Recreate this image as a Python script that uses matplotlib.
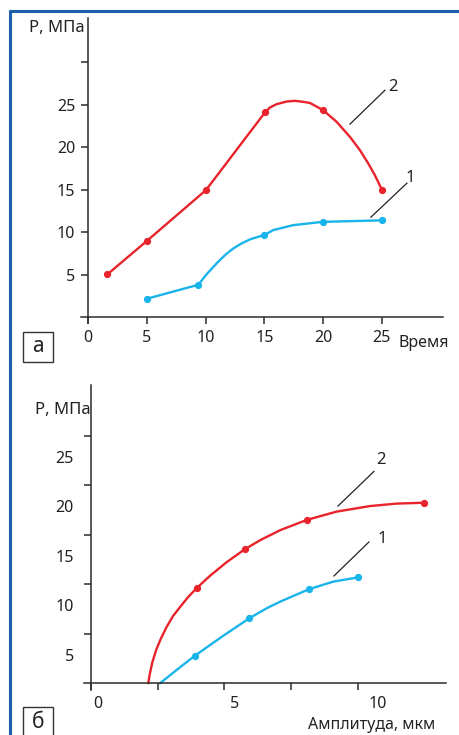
import matplotlib
matplotlib.use("Agg")
import matplotlib.pyplot as plt
from matplotlib.lines import Line2D
from matplotlib.patches import Rectangle
from matplotlib.transforms import ScaledTranslation

plt.rcParams["font.family"] = ["Noto Sans", "DejaVu Sans"]

RED = "#e8232b"
BLUE = "#18b4ea"
FRAME = "#1d5fab"
AXIS = "#2b2b2b"

# panel а: pressure vs time
time_red = [1.64, 5.02, 10.03, 15.05, 15.48, 16.05, 16.9, 17.6, 18.31, 18.88,
            20.0, 21.15, 22.28, 23.13, 23.84, 24.4, 25.0]
p_red_a = [5.02, 8.98, 14.94, 24.08, 24.67, 25.06, 25.37, 25.45, 25.33, 25.2,
           24.35, 22.98, 21.21, 19.65, 18.08, 16.71, 15.0]
time_red_pts = [1.64, 5.02, 10.03, 15.05, 20.0, 25.0]
p_red_a_pts = [5.02, 8.98, 14.94, 24.08, 24.35, 15.0]

time_blue = [4.99, 9.38, 10.1, 10.94, 11.65, 12.36, 13.07, 13.78, 14.48, 15.0,
             15.76, 17.46, 20.0, 25.02]
p_blue_a = [2.15, 3.8, 5.06, 6.32, 7.29, 8.08, 8.67, 9.14, 9.45, 9.65,
            10.24, 10.82, 11.21, 11.38]
time_blue_pts = [4.99, 9.38, 15.0, 20.0, 25.02]
p_blue_a_pts = [2.15, 3.8, 9.65, 11.21, 11.38]

# panel б: pressure vs amplitude
amp_red = [2.15, 2.2, 2.3, 2.45, 2.62, 2.84, 3.08, 3.34, 3.64, 3.96, 4.46, 5.09,
           5.77, 6.34, 7.09, 8.09, 9.21, 10.46, 11.46, 12.5]
p_red_b = [0.0, 0.85, 2.1, 3.4, 4.5, 5.7, 6.8, 7.7, 8.7, 9.6, 10.85, 12.24,
           13.54, 14.45, 15.46, 16.5, 17.34, 17.9, 18.15, 18.24]
amp_red_pts = [3.96, 5.77, 8.09, 12.5]
p_red_b_pts = [9.6, 13.54, 16.5, 18.24]

amp_blue = [2.59, 3.21, 3.9, 4.96, 5.94, 6.59, 7.09, 8.17, 9.09, 10.02]
p_blue_b = [0.0, 1.34, 2.79, 4.8, 6.57, 7.58, 8.24, 9.5, 10.27, 10.7]
amp_blue_pts = [3.9, 5.94, 8.17, 10.02]
p_blue_b_pts = [2.79, 6.57, 9.5, 10.7]

xticks_a = [0, 5, 10, 15, 20, 25]
yticks_a = [5, 10, 15, 20, 25, 30]
ylabels_a = ["5", "10", "15", "20", "25", ""]
xticks_b = [0, 2.5, 5, 7.5, 10]
xlabels_b = ["0", "", "5", "", "10"]
yticks_b = [5, 10, 15, 20, 25]


def style_axes(ax, ypad):
    for s in ("top", "right"):
        ax.spines[s].set_visible(False)
    for s in ("left", "bottom"):
        ax.spines[s].set_position(("data", 0))
        ax.spines[s].set_color(AXIS)
        ax.spines[s].set_linewidth(1.1)
    ax.tick_params(direction="out", length=5, width=1.1, color=AXIS,
                   labelsize=11.5, labelcolor="#222222")
    ax.tick_params(axis="y", pad=ypad)
    ax.tick_params(axis="x", pad=4.5)
    ax.patch.set_visible(False)


def draw_curve(ax, x, y, xp, yp, color):
    ax.plot(x, y, color=color, lw=1.7, solid_capstyle="round",
            solid_joinstyle="round", clip_on=False)
    ax.plot(xp, yp, "o", color=color, ms=4.2, clip_on=False)


def leader(ax, x0, y0, x1, y1, tx, ty, text):
    ax.plot([x0, x1], [y0, y1], color="#222222", lw=0.9)
    ax.text(tx, ty, text, fontsize=12, color="#222222", ha="center", va="center")


fig = plt.figure(figsize=(4.6, 7.35), dpi=100)

# --- panel а ---
ax_a = fig.add_axes([81 / 460, 1 - 323 / 735, 362 / 460, 305 / 735])
ax_a.set_xlim(-0.6, 30.2)
ax_a.set_ylim(-0.7, 35.2)
style_axes(ax_a, 4.3)
ax_a.set_xticks(xticks_a)
ax_a.set_yticks(yticks_a, ylabels_a)
draw_curve(ax_a, time_red, p_red_a, time_red_pts, p_red_a_pts, RED)
draw_curve(ax_a, time_blue, p_blue_a, time_blue_pts, p_blue_a_pts, BLUE)
leader(ax_a, 22.28, 22.7, 25.26, 26.7, 25.91, 27.02, "2")
leader(ax_a, 24.07, 11.76, 27.13, 15.76, 27.38, 16.35, "1")

# --- panel б ---
ax_b = fig.add_axes([84 / 460, 1 - 690 / 735, 362 / 460, 305 / 735])
ax_b.set_xlim(-0.26, 13.31)
ax_b.set_ylim(-0.68, 30.13)
style_axes(ax_b, 7.2)
ax_b.set_xticks(xticks_b, xlabels_b)
ax_b.set_yticks(yticks_b)
draw_curve(ax_b, amp_red, p_red_b, amp_red_pts, p_red_b_pts, RED)
draw_curve(ax_b, amp_blue, p_blue_b, amp_blue_pts, p_blue_b_pts, BLUE)
leader(ax_b, 9.26, 17.9, 10.61, 21.4, 10.87, 22.6, "2")
leader(ax_b, 9.11, 10.84, 10.42, 14.27, 10.91, 14.57, "1")

# labels in the original sit off their ticks
x_shift = [0.07, 0, 0.10, 0, 0.20]
for lab, dx in zip(ax_b.get_xticklabels(), x_shift):
    lab.set_transform(lab.get_transform() + ScaledTranslation(dx, 0, fig.dpi_scale_trans))
for lab in ax_b.get_yticklabels():
    lab.set_transform(lab.get_transform() + ScaledTranslation(0, -0.21, fig.dpi_scale_trans))

# axis titles
fig.text(29 / 460, 1 - 28 / 735, "P, МПа", fontsize=12, ha="left", va="center", color="#222222")
fig.text(35 / 460, 1 - 410 / 735, "P, МПа", fontsize=12, ha="left", va="center", color="#222222")
fig.text(399 / 460, 1 - 343 / 735, "Время", fontsize=11.5, ha="left", va="center", color="#222222")
fig.text(308 / 460, 1 - 725 / 735, "Амплитуда, мкм", fontsize=11.5, ha="left", va="center",
         color="#222222")

# panel letters in boxes
for top, letter in ((332, "а"), (707, "б")):
    fig.patches.append(Rectangle((23 / 460, 1 - (top + 30) / 735), 30 / 460, 30 / 735,
                                 transform=fig.transFigure, fill=False,
                                 edgecolor="#333333", lw=1))
    fig.text(38 / 460, 1 - (top + 15) / 735, letter, fontsize=15, fontweight="bold",
             ha="center", va="center", color="#222222")

# blue frame
fig.add_artist(Line2D([9 / 460, 1], [1 - 11 / 735, 1 - 11 / 735], color=FRAME, lw=2.2,
                      transform=fig.transFigure, solid_capstyle="butt"))
fig.add_artist(Line2D([10 / 460, 10 / 460], [0, 1 - 10 / 735], color=FRAME, lw=2.2,
                      transform=fig.transFigure, solid_capstyle="butt"))

fig.savefig("out.png", dpi=100)
